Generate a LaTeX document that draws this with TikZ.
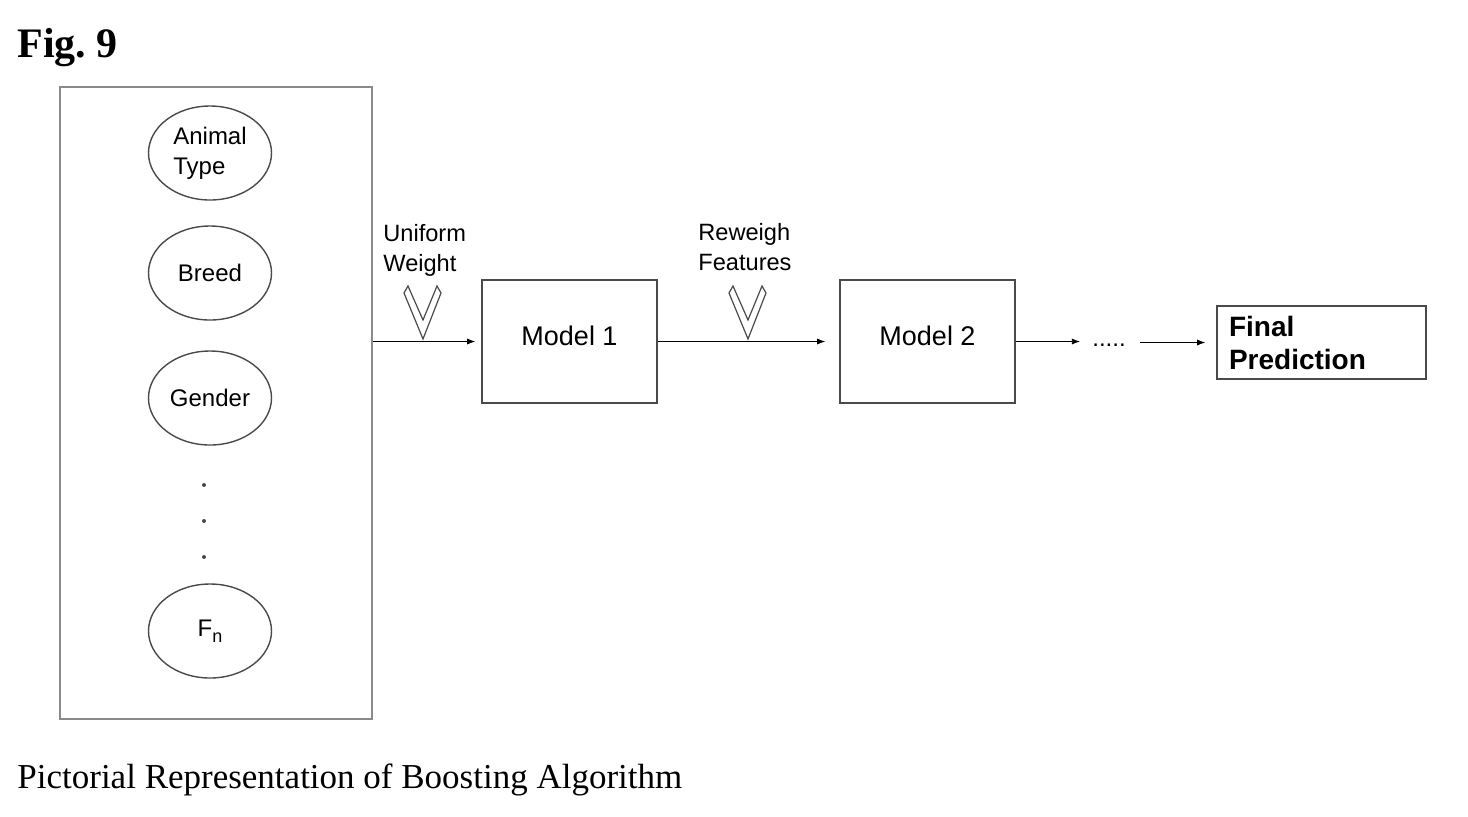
\documentclass[tikz,border=0pt]{standalone}
\usepackage{fontspec}
\setmainfont{Liberation Serif}
\setsansfont{Liberation Sans}
\usepackage{tikz}
\usepackage{xcolor}
\usetikzlibrary{shapes.geometric,arrows.meta}
\definecolor{line-gray}{HTML}{4A4A4A}
\definecolor{panel-gray}{HTML}{8A8A8A}
\tikzset{
    feature-panel/.style = {draw=panel-gray, line width=1.3pt, rectangle, minimum width=156pt, minimum height=316pt},
    feature-ellipse/.style = {draw=line-gray, line width=0.7pt, ellipse, minimum width=61.5pt, minimum height=47pt, inner sep=0pt, align=left, font=\sffamily\fontsize{12}{15}\selectfont},
    model-box/.style = {draw=line-gray, line width=0.8pt, rectangle, minimum width=87.5pt, minimum height=61.5pt, text depth=6pt, font=\sffamily\fontsize{13.5}{16}\selectfont},
    weight-label/.style = {anchor=west, align=left, inner sep=0pt, font=\sffamily\fontsize{11.8}{15}\selectfont},
    flow-arrow/.style = {-{Latex[length=4pt,width=3pt]}, line width=0.4pt},
    chevron/.style = {draw=line-gray, line width=0.6pt, line join=miter},
}

\begin{document}
\begin{tikzpicture}[x=0.5pt, y=-0.5pt]
\useasboundingbox (0,0) rectangle (1468,816);
\node[anchor=base west, inner sep=0pt, font=\bfseries\fontsize{21}{24}\selectfont] (fig) at (17,57) {Fig.\ 9};
\node[anchor=base west, inner sep=0pt, font=\fontsize{17.5}{20}\selectfont] (caption) at (17,788) {Pictorial Representation of Boosting Algorithm};

% input features
\node[feature-panel] (features) at (216,403) {};
\node[feature-ellipse] (animal) at (210,153) {Animal\\Type};
\node[feature-ellipse] (breed) at (210,273) {Breed};
\node[feature-ellipse] (gender) at (210,398) {Gender};
\node[feature-ellipse] (fn) at (210,631) {F\raisebox{-0.45ex}{\fontsize{9}{9}\selectfont n}};
\foreach \y in {485,521,557}
    \fill[line-gray] (204,\y) circle (2);

% models
\node[model-box] (model1) at (569.5,341.5) {Model 1};
\node[model-box] (model2) at (927.5,341.5) {Model 2};
\node[draw=line-gray, line width=0.8pt, rectangle, minimum width=104.5pt, minimum height=36.5pt, text width=92.5pt, inner xsep=6pt, align=left, font=\sffamily\bfseries\fontsize{14}{16.5}\selectfont] (final) at (1321.5,342.5) {Final\\Prediction};
\node[anchor=base, inner sep=0pt, font=\sffamily\fontsize{12}{14}\selectfont] (more) at (1109,346) {.....};

\node[weight-label] (uniform) at (383,250) {Uniform\\Weight};
\node[weight-label] (reweigh) at (698,247) {Reweigh\\Features};

% connectors
\draw[flow-arrow, shorten >=3pt] (features.east |- model1.west) -- (model1.west);
\draw[flow-arrow, shorten >=7pt] (model1.east) -- (model2.west);
\draw[flow-arrow, shorten >=6pt] (model2.east) -- (model2.east -| more.west);
\draw[flow-arrow, shorten <=7pt, shorten >=5.5pt] (more.east |- final.west) -- (final.west);

% weight chevrons
\foreach \cx/\cy in {423/339, 748/339}
    \draw[chevron] (\cx,\cy) -- ++(-19,-46) -- ++(4,-7) -- (\cx,\cy-19) -- ++(14,-34) -- ++(4,7) -- cycle;
\end{tikzpicture}
\end{document}
